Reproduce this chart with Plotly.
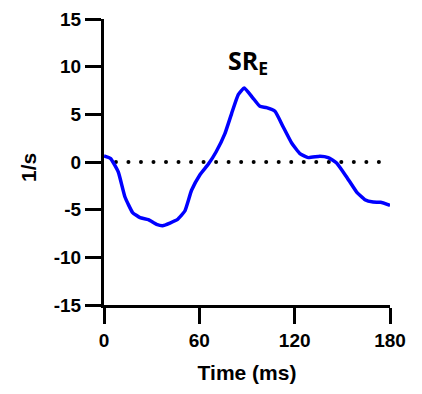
import numpy as np
import plotly.graph_objects as go

time_ms = [0, 4.2, 9, 13.2, 18, 22.7, 27.9, 33.1, 36.9, 41.5, 46.1, 50.9, 55.1, 60.4,
           65.6, 70.5, 76.1, 80.3, 84.5, 88.3, 93.5, 98.1, 102.3, 107.6, 112.8, 118.1,
           123.3, 128.6, 135.9, 141.1, 146.4, 152.7, 159, 164.2, 169.4, 174.1, 180]
sr_e = [0.63, 0.36, -1.05, -3.67, -5.3, -5.84, -6.05, -6.54, -6.68, -6.4, -6.05, -5.14,
        -2.97, -1.33, -0.24, 1.05, 2.98, 5.08, 7.07, 7.77, 6.76, 5.84, 5.71, 5.32, 3.67,
        1.99, 0.88, 0.46, 0.6, 0.46, -0.1, -1.57, -3.15, -3.95, -4.2, -4.23, -4.55]

zero_x = list(np.linspace(7.5, 173, 22))
zero_y = [0] * len(zero_x)

x_ticks = [0, 60, 120, 180]
y_ticks = [-15, -10, -5, 0, 5, 10, 15]

W, H = 414, 386
L, R, T, B = 96, 32, 11, 89
PW, PH = W - L - R, H - T - B

fig = go.Figure()
fig.add_trace(go.Scatter(x=zero_x, y=zero_y, mode="markers",
                         marker=dict(color="black", size=4), hoverinfo="skip"))
fig.add_trace(go.Scatter(x=time_ms, y=sr_e, mode="lines",
                         line=dict(color="#0000ff", width=3.5, shape="spline", smoothing=0.4)))

axis_font = dict(family="Liberation Sans, Arial", size=19, color="black")
fig.update_layout(
    width=W, height=H,
    margin=dict(l=L, r=R, t=T, b=B, autoexpand=False),
    paper_bgcolor="white", plot_bgcolor="white",
    showlegend=False,
    font=dict(family="Liberation Sans, Arial", color="black"),
    xaxis=dict(range=[0, 180], tickvals=x_ticks, ticktext=[f"<b>{v}</b>" for v in x_ticks],
               showgrid=False, zeroline=False, showline=True, linecolor="black",
               linewidth=3, ticks="outside", ticklen=16, tickwidth=3, tickcolor="black",
               tickfont=axis_font, automargin=False,
               title=dict(text="<b>Time (ms)</b>", font=dict(family="Liberation Sans, Arial", size=21),
                          standoff=16)),
    yaxis=dict(range=[-15, 15], tickvals=y_ticks, ticktext=[f"<b>{v}</b>" for v in y_ticks],
               showgrid=False, zeroline=False, showline=True, linecolor="black",
               linewidth=3, ticks="outside", ticklen=16, tickwidth=3, tickcolor="black",
               tickfont=axis_font, automargin=False),
    annotations=[
        dict(text="<b>1/s</b>", x=(20 - L) / PW, y=(H - 160 - B) / PH, xref="paper", yref="paper",
             xanchor="center", yanchor="middle",
             showarrow=False, textangle=-90, font=dict(family="Liberation Sans, Arial", size=21)),
        dict(text="<b>SR<sub>E</sub></b>", x=90.6, y=10.5, xref="x", yref="y", showarrow=False,
             xanchor="center", yanchor="middle",
             font=dict(family="Open Sans, Lato", size=25)),
    ],
)
fig.write_html("out.html")
